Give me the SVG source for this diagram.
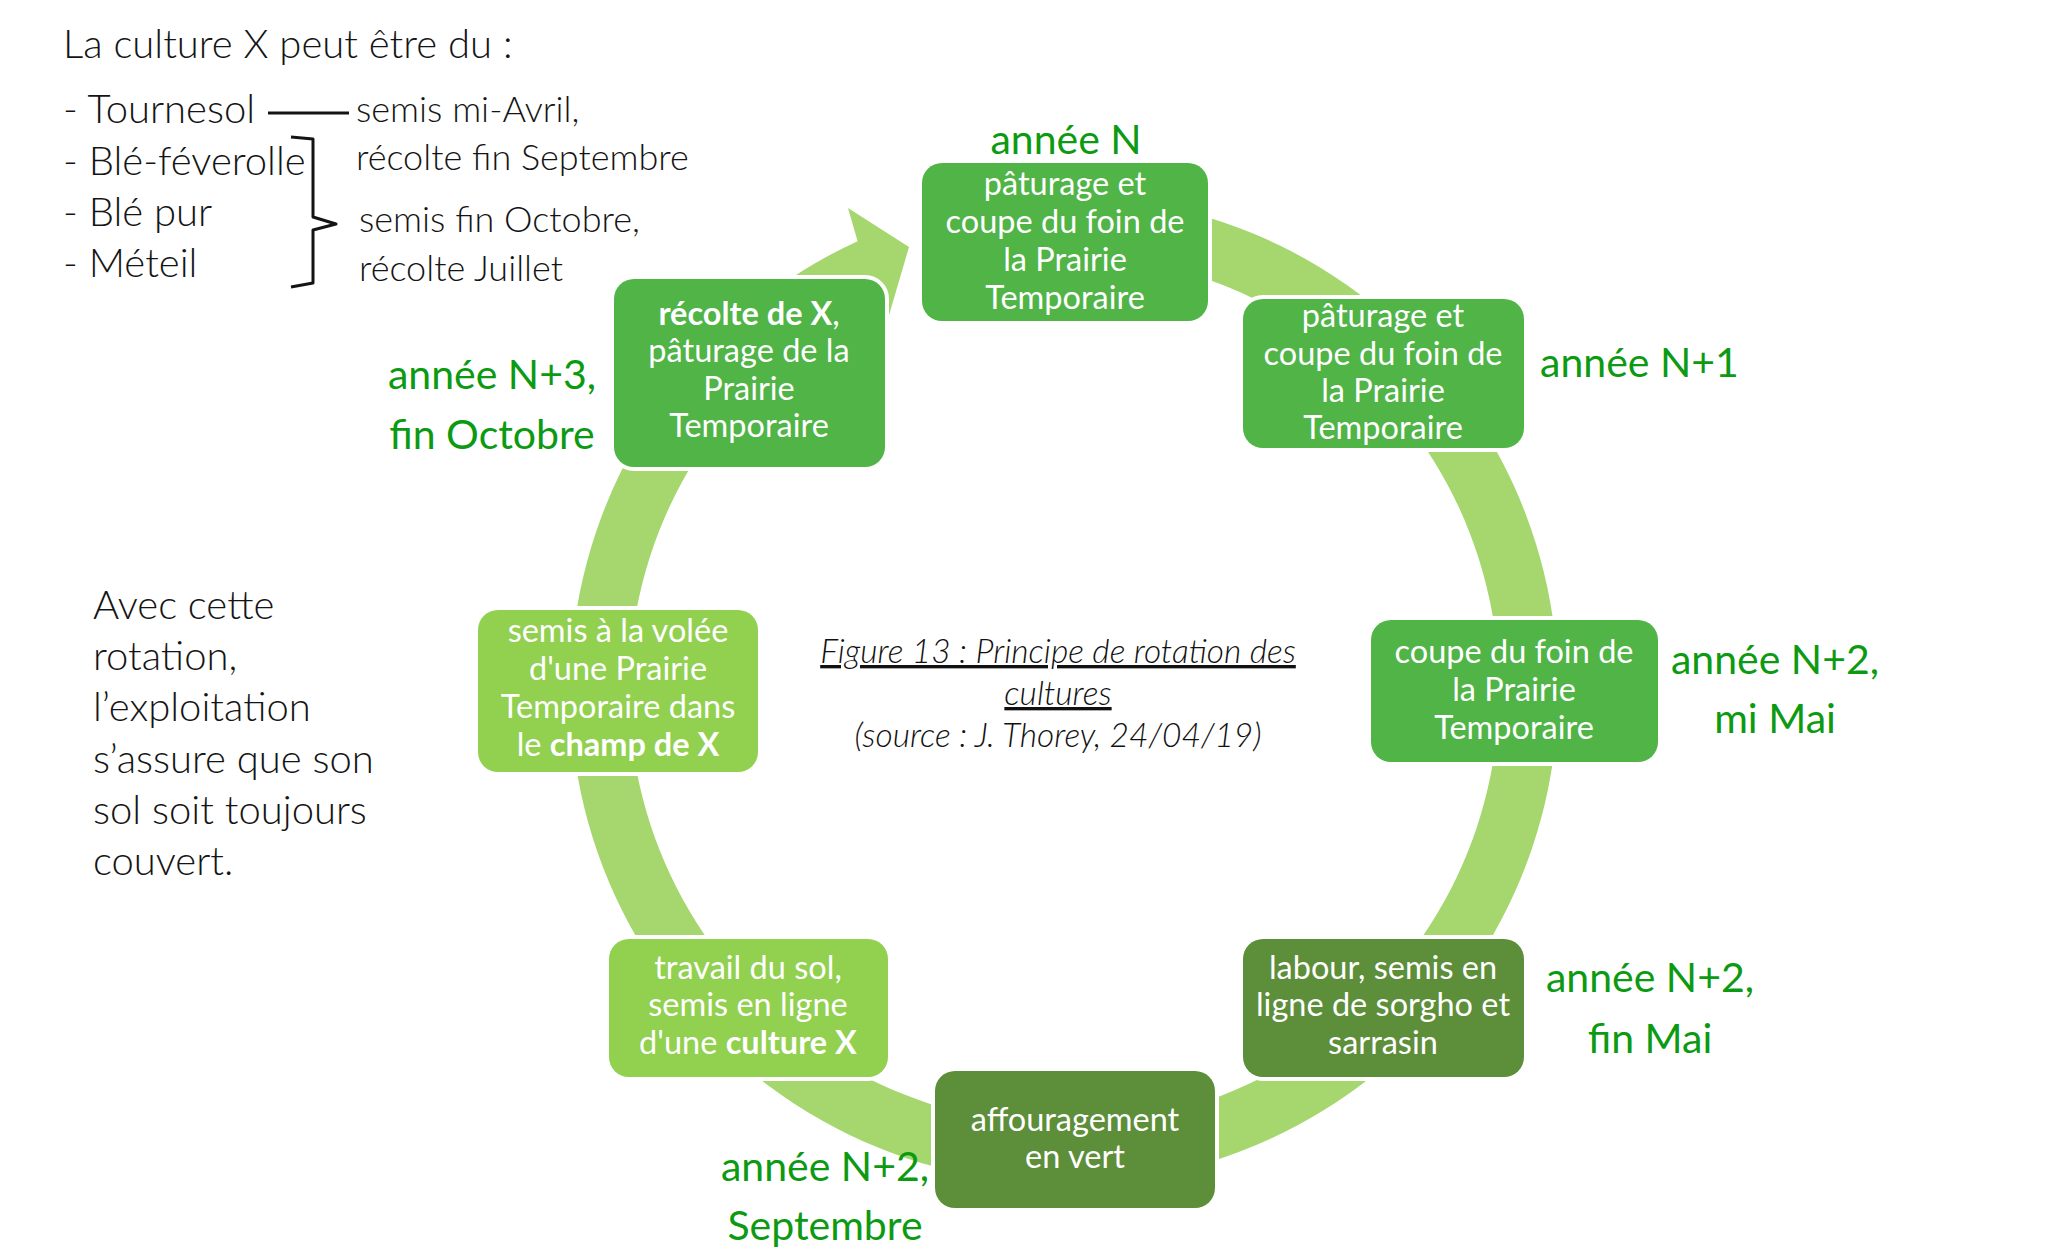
<svg xmlns="http://www.w3.org/2000/svg" width="2048" height="1252" viewBox="0 0 2048 1252">
<style>
  .bg { fill: #ffffff; }
  .ring { fill: #a5d76e; }
  .box { stroke: #ffffff; stroke-width: 8; paint-order: stroke fill; }
  .mid { fill: #50b447; }
  .light { fill: #92d050; }
  .dark { fill: #5d8e3a; }
  .bt { font-family: Lato, "Open Sans", sans-serif; font-size: 32.5px; fill: #ffffff; text-anchor: middle; }
  .b { font-weight: bold; }
  .yr { font-family: Lato, "Open Sans", sans-serif; font-size: 41px; fill: #0c9a12; }
  .yrc { text-anchor: middle; }
  .lt { font-family: Lato, "Open Sans", sans-serif; font-weight: 300; font-size: 40px; fill: #141414; }
  .ls { font-family: Lato, "Open Sans", sans-serif; font-weight: 300; font-size: 36px; fill: #141414; }
  .cap { font-family: Lato, "Open Sans", sans-serif; font-weight: 300; font-style: italic; font-size: 33.5px; fill: #111111; text-anchor: middle; }
</style>
<rect class="bg" x="0" y="0" width="2048" height="1252"/>

<g id="legend">
  <text class="lt" x="63" y="58">La culture X peut être du :</text>
  <text class="lt" x="63" y="123">- Tournesol</text>
  <line x1="268" y1="113" x2="349" y2="113" stroke="#141414" stroke-width="3"/>
  <text class="ls" x="356" y="122">semis mi-Avril,</text>
  <text class="lt" x="63" y="175">- Blé-féverolle</text>
  <text class="ls" x="356" y="170">récolte fin Septembre</text>
  <text class="lt" x="63" y="226">- Blé pur</text>
  <text class="ls" x="359" y="232">semis fin Octobre,</text>
  <text class="lt" x="63" y="277">- Méteil</text>
  <text class="ls" x="359" y="281">récolte Juillet</text>
  <path d="M 291 137 L 313 139 L 313 217 L 336 224 L 313 230 L 313 283 L 291 287" fill="none" stroke="#141414" stroke-width="3" stroke-linejoin="round"/>
</g>

<g id="note">
  <text class="lt" x="93" y="619">Avec cette</text>
  <text class="lt" x="93" y="670">rotation,</text>
  <text class="lt" x="93" y="721">l’exploitation</text>
  <text class="lt" x="93" y="773">s’assure que son</text>
  <text class="lt" x="93" y="824">sol soit toujours</text>
  <text class="lt" x="93" y="875">couvert.</text>
</g>

<g id="caption">
  <text class="cap" x="1058" y="663" text-decoration="underline">Figure 13 : Principe de rotation des</text>
  <text class="cap" x="1058" y="705" text-decoration="underline">cultures</text>
  <text class="cap" x="1058" y="747">(source : J. Thorey, 24/04/19)</text>
</g>

<g id="connectors">
  <path class="ring" d="M 978.2 203.5 A 494 494 0 1 1 857.6 241.2 L 848 208 L 909 247 L 887 322 L 876.7 297.4 A 435 435 0 1 0 988.5 261.6 Z"/>
</g>

<g id="node-n">
  <rect class="box mid" x="922" y="163" width="286" height="158" rx="20"/>
  <text class="bt" x="1065" y="195">pâturage et</text>
  <text class="bt" x="1065" y="233">coupe du foin de</text>
  <text class="bt" x="1065" y="271">la Prairie</text>
  <text class="bt" x="1065" y="309">Temporaire</text>
</g>

<g id="node-n1">
  <rect class="box mid" x="1243" y="299" width="281" height="149" rx="20"/>
  <text class="bt" x="1383" y="327">pâturage et</text>
  <text class="bt" x="1383" y="365">coupe du foin de</text>
  <text class="bt" x="1383" y="402">la Prairie</text>
  <text class="bt" x="1383" y="439">Temporaire</text>
</g>

<g id="node-n2-mai">
  <rect class="box mid" x="1371" y="620" width="287" height="142" rx="20"/>
  <text class="bt" x="1514" y="663">coupe du foin de</text>
  <text class="bt" x="1514" y="701">la Prairie</text>
  <text class="bt" x="1514" y="739">Temporaire</text>
</g>

<g id="node-n2-finmai">
  <rect class="box dark" x="1243" y="939" width="281" height="138" rx="20"/>
  <text class="bt" x="1383" y="979">labour, semis en</text>
  <text class="bt" x="1383" y="1016">ligne de sorgho et</text>
  <text class="bt" x="1383" y="1054">sarrasin</text>
</g>

<g id="node-n2-sept">
  <rect class="box dark" x="935" y="1071" width="280" height="137" rx="20"/>
  <text class="bt" x="1075" y="1131">affouragement</text>
  <text class="bt" x="1075" y="1168">en vert</text>
</g>

<g id="node-travail">
  <rect class="box light" x="609" y="939" width="279" height="138" rx="20"/>
  <text class="bt" x="748" y="979">travail du sol,</text>
  <text class="bt" x="748" y="1016">semis en ligne</text>
  <text class="bt" x="748" y="1054">d'une <tspan class="b">culture X</tspan></text>
</g>

<g id="node-semis">
  <rect class="box light" x="478" y="610" width="280" height="162" rx="20"/>
  <text class="bt" x="618" y="642">semis à la volée</text>
  <text class="bt" x="618" y="680">d'une Prairie</text>
  <text class="bt" x="618" y="718">Temporaire dans</text>
  <text class="bt" x="618" y="756">le <tspan class="b">champ de X</tspan></text>
</g>

<g id="node-n3">
  <rect class="box mid" x="614" y="279" width="271" height="188" rx="20"/>
  <text class="bt" x="749" y="325"><tspan class="b">récolte de X</tspan>,</text>
  <text class="bt" x="749" y="362">pâturage de la</text>
  <text class="bt" x="749" y="400">Prairie</text>
  <text class="bt" x="749" y="437">Temporaire</text>
</g>

<g id="year-labels">
  <text class="yr yrc" x="1066" y="154">année N</text>
  <text class="yr" x="1540" y="377">année N+1</text>
  <text class="yr yrc" x="1775" y="674">année N+2,</text>
  <text class="yr yrc" x="1775" y="733">mi Mai</text>
  <text class="yr yrc" x="1650" y="992">année N+2,</text>
  <text class="yr yrc" x="1650" y="1053">fin Mai</text>
  <text class="yr yrc" x="825" y="1181">année N+2,</text>
  <text class="yr yrc" x="825" y="1240">Septembre</text>
  <text class="yr yrc" x="492" y="389">année N+3,</text>
  <text class="yr yrc" x="492" y="449">fin Octobre</text>
</g>
</svg>
